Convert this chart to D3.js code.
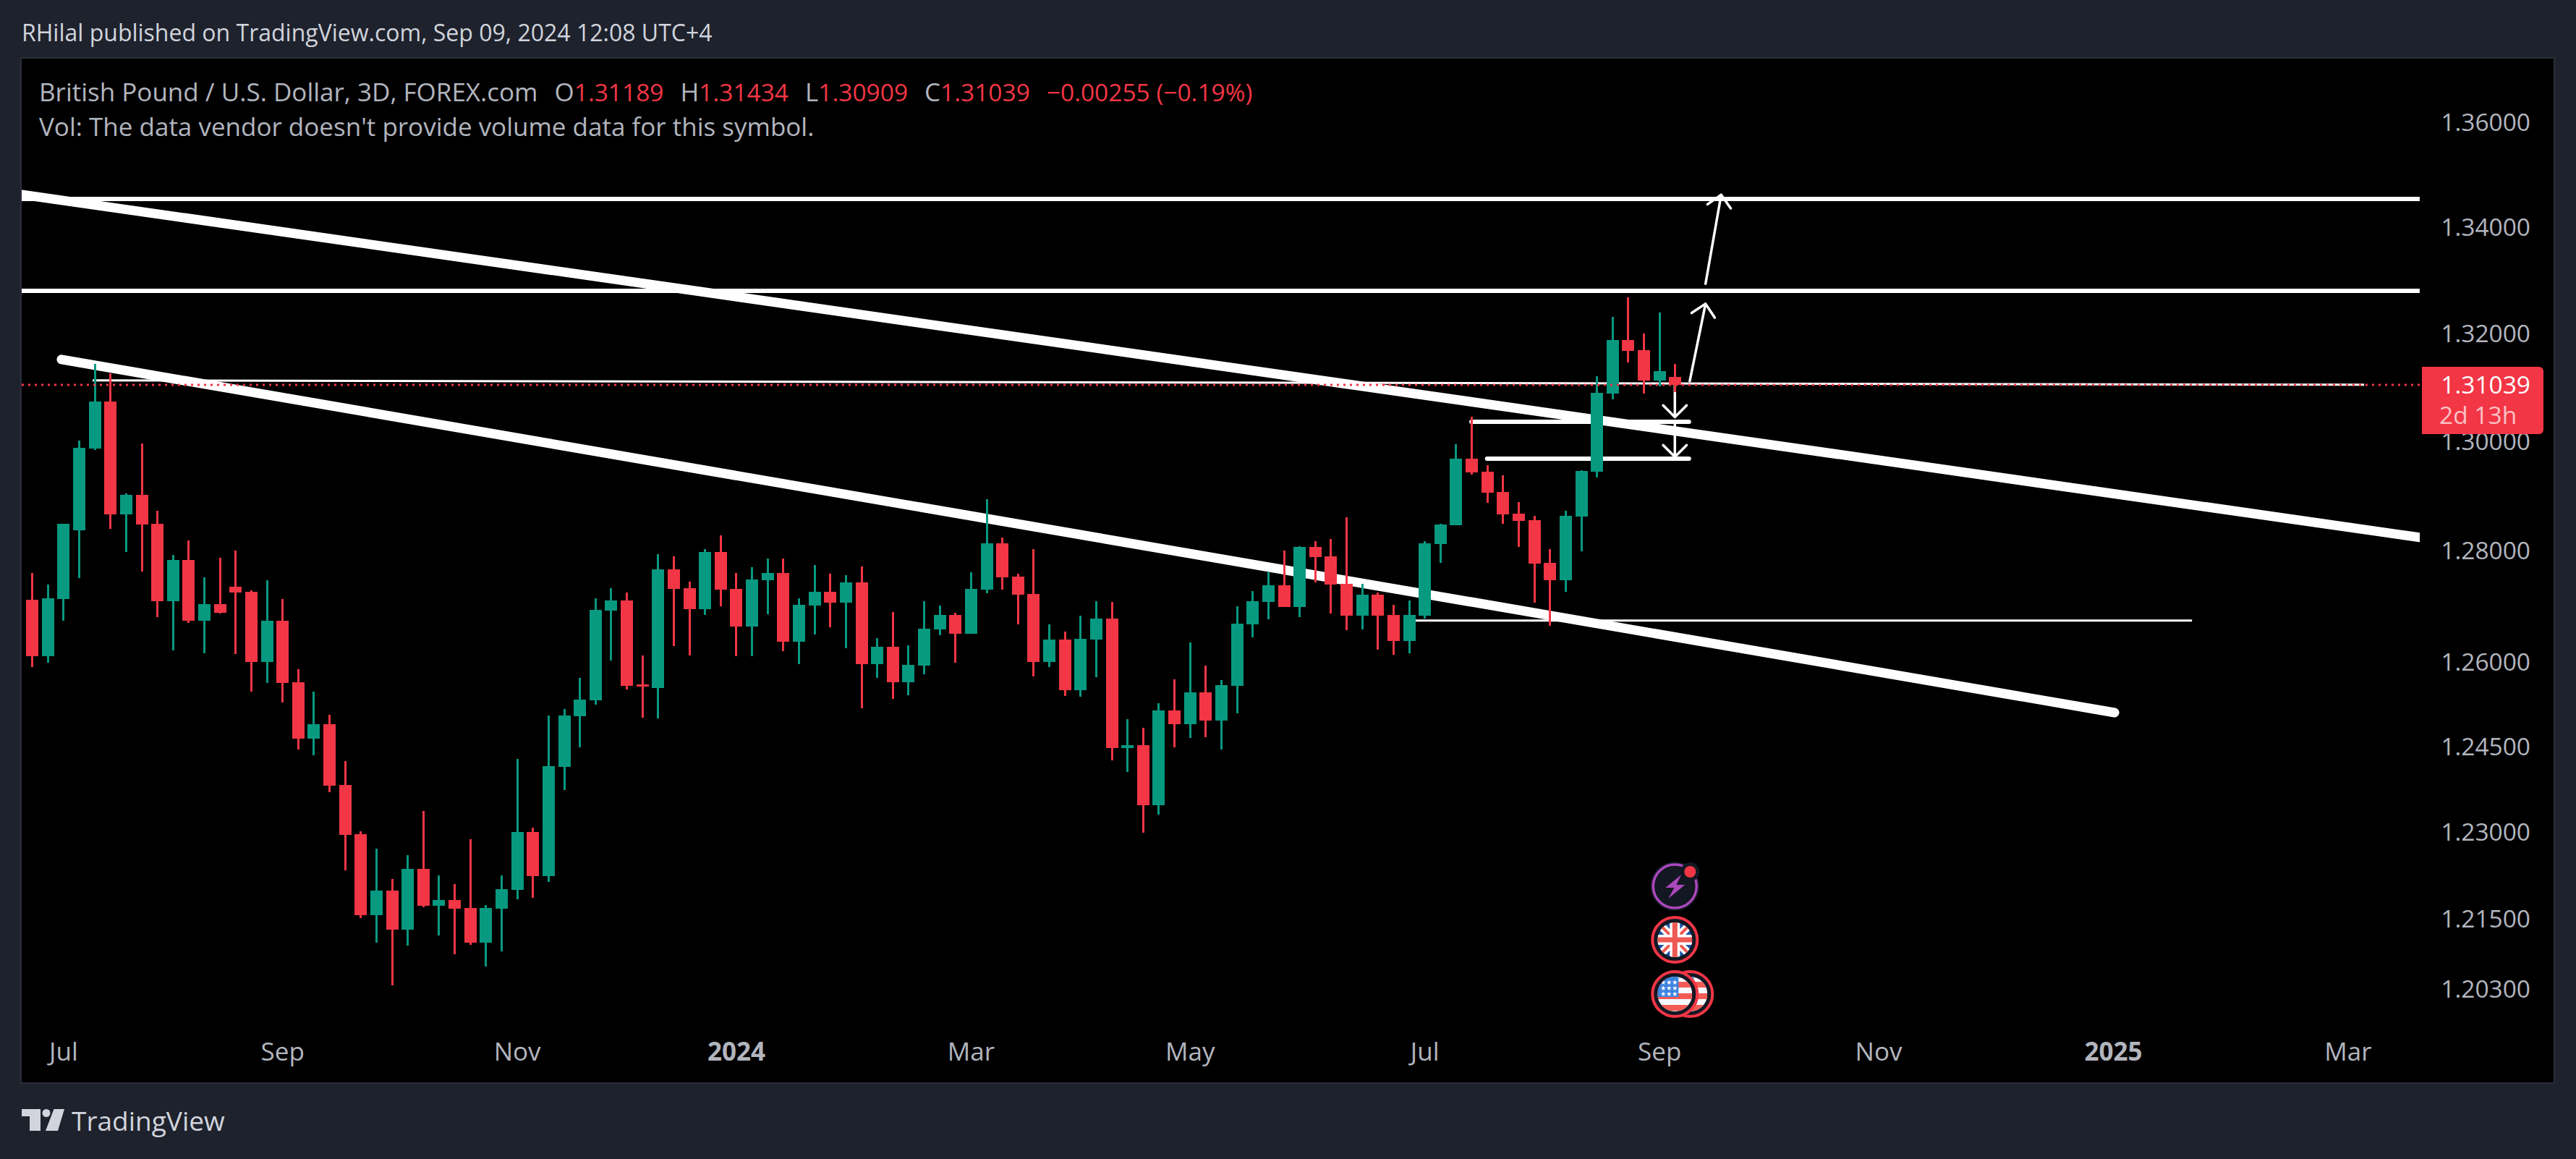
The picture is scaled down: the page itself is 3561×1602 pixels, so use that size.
<!DOCTYPE html>
<html lang="en">
<head>
  <meta charset="UTF-8">
  <title>GBP/USD 3D</title>
  <style>
    html, body { margin: 0; padding: 0; background: #1e222d; }
    svg { display: block; }
    text { font-family: "Open Sans", "Noto Sans", sans-serif; }
    .axis path, .axis line { display: none; }
    .axis text { fill: #b2b5be; font-family: "Open Sans", sans-serif; }
  </style>
</head>
<body>
  <svg width="3561" height="1602"></svg>
  <script src="https://d3js.org/d3.v7.min.js"></script>
  <script>
    const width = 3561, height = 1602;
    const red = "#f23645", green = "#089981";

    // 3D candles
    const opens = [
      1.27114,1.26102,1.27127,1.28370,1.29864,1.30732,1.28659,1.29016,1.28488,1.27088,
      1.27832,1.26738,1.27036,1.27348,1.27257,1.25999,1.26738,1.25639,1.24639,1.24893,
      1.23825,1.22966,1.21563,1.21987,1.21314,1.22362,1.21726,1.21825,1.21688,1.21090,
      1.21676,1.22000,1.23004,1.22237,1.24143,1.25034,1.25317,1.26919,1.27101,1.25600,
      1.25536,1.27662,1.27322,1.26945,1.27976,1.27309,1.26634,1.27465,1.27596,1.26361,
      1.27010,1.27257,1.27062,1.27426,1.25961,1.26270,1.25639,1.25935,1.26582,1.26841,
      1.26504,1.27296,1.28134,1.27530,1.27218,1.25999,1.26400,1.25498,1.26400,1.26777,
      1.24474,1.24524,1.23470,1.25137,1.24893,1.25459,1.24957,1.25575,1.26673,1.27075,
      1.27374,1.26984,1.28068,1.27898,1.27400,1.26829,1.27205,1.26841,1.26374,1.26829,
      1.28121,1.28462,1.29678,1.29440,1.29068,1.28672,1.28554,1.27780,1.27465,1.28619,
      1.29440,1.30879,1.31875,1.31685,1.31121,1.31189
    ];
    const highs = [
      1.27596,1.27387,1.28488,1.30010,1.31429,1.31255,1.29042,1.29957,1.28724,1.27924,
      1.28186,1.27517,1.27871,1.28003,1.27283,1.27465,1.27127,1.25870,1.25472,1.25060,
      1.24245,1.23017,1.22714,1.22187,1.22601,1.23369,1.22249,1.22100,1.22878,1.21738,
      1.22249,1.24283,1.23080,1.25047,1.25163,1.25716,1.27140,1.27322,1.27244,1.26115,
      1.27937,1.27898,1.27439,1.28029,1.28278,1.27596,1.27701,1.27858,1.27858,1.27140,
      1.27740,1.27583,1.27557,1.27714,1.26426,1.26893,1.26296,1.27088,1.27010,1.26880,
      1.27609,1.28936,1.28239,1.27583,1.28029,1.26673,1.26543,1.26829,1.27088,1.27075,
      1.24983,1.24830,1.25266,1.25690,1.26348,1.25935,1.25677,1.26997,1.27270,1.27609,
      1.28003,1.28081,1.28173,1.28213,1.28606,1.27400,1.27244,1.27023,1.27101,1.28173,
      1.28488,1.29943,1.30451,1.29559,1.29373,1.28882,1.28632,1.28029,1.28724,1.29466,
      1.31201,1.32308,1.32673,1.31997,1.32389,1.31434
    ];
    const lows = [
      1.25909,1.25986,1.26738,1.27504,1.29838,1.28396,1.27976,1.27622,1.26803,1.26205,
      1.26699,1.26153,1.26867,1.26141,1.25472,1.25626,1.25279,1.24448,1.24346,1.23698,
      1.22337,1.21514,1.21090,1.20362,1.21041,1.21701,1.21214,1.20893,1.21053,1.20683,
      1.20942,1.21838,1.21863,1.22137,1.23736,1.24486,1.25240,1.26025,1.25510,1.25009,
      1.24996,1.26283,1.26115,1.26841,1.26997,1.26102,1.26102,1.26854,1.26192,1.25961,
      1.26491,1.26621,1.26244,1.25176,1.25716,1.25343,1.25408,1.25780,1.26478,1.25986,
      1.26504,1.27231,1.27296,1.26673,1.25742,1.25909,1.25395,1.25382,1.25729,1.24257,
      1.24054,1.22991,1.23306,1.24486,1.24652,1.24664,1.24448,1.25086,1.26439,1.26764,
      1.26984,1.26803,1.27426,1.26867,1.26569,1.26582,1.26218,1.26128,1.26153,1.26777,
      1.27780,1.28462,1.29386,1.28869,1.28488,1.28068,1.27062,1.26647,1.27257,1.27990,
      1.29333,1.30772,1.31456,1.30879,1.31013,1.30909
    ];
    const closes = [
      1.26102,1.27140,1.28488,1.29877,1.30732,1.28659,1.29016,1.28475,1.27088,1.27832,
      1.26738,1.27036,1.26880,1.27244,1.25999,1.26738,1.25626,1.24639,1.24893,1.23812,
      1.22954,1.21563,1.21987,1.21314,1.22362,1.21726,1.21825,1.21676,1.21090,1.21688,
      1.22012,1.23004,1.22237,1.24156,1.25047,1.25330,1.26932,1.27101,1.25575,1.25562,
      1.27662,1.27309,1.26945,1.27976,1.27296,1.26634,1.27478,1.27596,1.26361,1.27023,
      1.27257,1.27062,1.27426,1.25961,1.26270,1.25639,1.25948,1.26595,1.26841,1.26504,
      1.27309,1.28134,1.27517,1.27205,1.25999,1.26400,1.25498,1.26413,1.26777,1.24474,
      1.24524,1.23470,1.25137,1.24893,1.25459,1.24957,1.25587,1.26686,1.27088,1.27374,
      1.26984,1.28068,1.27885,1.27387,1.26829,1.27205,1.26829,1.26374,1.26841,1.28134,
      1.28475,1.29678,1.29426,1.29055,1.28659,1.28541,1.27767,1.27465,1.28632,1.29453,
      1.30893,1.31875,1.31672,1.31121,1.31295,1.31039
    ];

    const priceTicks = [1.36, 1.34, 1.32, 1.30, 1.28, 1.26, 1.245, 1.23, 1.215, 1.203];
    const timeTicks = [2, 16, 31, 45, 60, 74, 89, 104, 118, 133, 148];
    const timeLabels = ["Jul", "Sep", "Nov", "2024", "Mar", "May", "Jul", "Sep", "Nov", "2025", "Mar"];
    const lastPrice = 1.31039;

    // drawings as [bar index, price] pairs
    const trendLines = [
      [[-0.652, 1.34616], [152.6, 1.28239]],
      [[1.89, 1.31510], [133.1, 1.25099]]
    ];
    const levelLines = [
      [[-0.652, 1.34533], [152.6, 1.34533]],
      [[-0.652, 1.32795], [152.6, 1.32795]]
    ];
    const shortLevels = [
      [[92, 1.30357], [105.9, 1.30357]],
      [[93, 1.29678], [105.9, 1.29678]]
    ];
    const thinLines = [
      [[3.88, 1.31121], [149.05, 1.31040]],
      [[88.4, 1.26738], [138.05, 1.26738]]
    ];
    const arrows = [
      [[105.95, 1.31107], [106.96, 1.32551]],
      [[106.96, 1.32927], [107.96, 1.34612]],
      [[105, 1.31067], [105, 1.30441]],
      [[105, 1.30330], [105, 1.29709]]
    ];

    const legendParts = [
      ["British Pound / U.S. Dollar, 3D, FOREX.com", "#b2b5be", 0],
      ["O", "#b2b5be", 23], ["1.31189", red, 0],
      ["H", "#b2b5be", 23], ["1.31434", red, 0],
      ["L", "#b2b5be", 23], ["1.30909", red, 0],
      ["C", "#b2b5be", 23], ["1.31039", red, 0],
      ["−0.00255 (−0.19%)", red, 23]
    ];

    const paneRight = 3345, plotLeft = 30, plotRight = 3530, plotTop = 81, plotBottom = 1496;

    const x = d3.scaleLinear().domain([0, 105]).range([44.1, 2315.3]);
    const y = d3.scaleLog().domain([1.36, 1.203]).range([169, 1367]);
    const px = p => [x(p[0]), y(p[1])];

    const svg = d3.select("svg");

    svg.append("rect").attr("width", width).attr("height", height).attr("fill", "#1e222d");
    svg.append("rect")
      .attr("x", plotLeft - 1).attr("y", plotTop - 1)
      .attr("width", plotRight - plotLeft + 2).attr("height", plotBottom - plotTop + 2)
      .attr("fill", "#000").attr("stroke", "#2a2e39").attr("stroke-width", 2);

    svg.append("text").attr("x", 30).attr("y", 57)
      .attr("font-size", 32).attr("fill", "#d1d4dc")
      .text("RHilal published on TradingView.com, Sep 09, 2024 12:08 UTC+4");

    svg.append("clipPath").attr("id", "pane").append("rect")
      .attr("x", plotLeft).attr("y", plotTop)
      .attr("width", paneRight - plotLeft).attr("height", plotBottom - plotTop);

    const pane = svg.append("g").attr("clip-path", "url(#pane)");
    const line = d3.line();

    function drawLines(list, w, cap) {
      pane.append("g").selectAll("path").data(list).join("path")
        .attr("d", d => line(d.map(px)))
        .attr("fill", "none").attr("stroke", "#fff")
        .attr("stroke-width", w).attr("stroke-linecap", cap);
    }
    drawLines(levelLines, 6, "butt");
    drawLines(trendLines, 13, "round");
    drawLines(shortLevels, 6, "round");
    drawLines(thinLines, 3, "butt");

    // arrow shaft plus a 45 degree head at the tip
    const headLen = 23;
    function arrowPath(a) {
      const s = px(a[0]), t = px(a[1]);
      const ang = Math.atan2(s[1] - t[1], s[0] - t[0]);
      const w1 = [t[0] + headLen * Math.cos(ang + Math.PI / 4), t[1] + headLen * Math.sin(ang + Math.PI / 4)];
      const w2 = [t[0] + headLen * Math.cos(ang - Math.PI / 4), t[1] + headLen * Math.sin(ang - Math.PI / 4)];
      return line([s, t]) + line([w1, t, w2]);
    }
    pane.append("g").selectAll("path").data(arrows).join("path")
      .attr("d", arrowPath)
      .attr("fill", "none").attr("stroke", "#fff").attr("stroke-width", 3.5)
      .attr("stroke-linecap", "round").attr("stroke-linejoin", "round");

    // candles
    const idx = d3.range(opens.length);
    const colorOf = i => closes[i] < opens[i] ? red : green;
    const candles = pane.append("g").attr("shape-rendering", "crispEdges");
    candles.selectAll("rect.wick").data(idx).join("rect")
      .attr("class", "wick")
      .attr("x", i => Math.round(x(i)) - 1).attr("width", 3)
      .attr("y", i => y(highs[i]))
      .attr("height", i => y(lows[i]) - y(highs[i]))
      .attr("fill", colorOf);
    candles.selectAll("rect.body").data(idx).join("rect")
      .attr("class", "body")
      .attr("x", i => Math.round(x(i)) - 8).attr("width", 17)
      .attr("y", i => y(Math.max(opens[i], closes[i])))
      .attr("height", i => Math.max(1, Math.abs(y(opens[i]) - y(closes[i]))))
      .attr("fill", colorOf);

    // last price line
    svg.append("line")
      .attr("x1", plotLeft).attr("x2", paneRight)
      .attr("y1", y(lastPrice)).attr("y2", y(lastPrice))
      .attr("stroke", red).attr("stroke-width", 3).attr("stroke-dasharray", "3 6");

    // axes
    svg.append("g").attr("class", "axis")
      .attr("transform", "translate(3498,1)")
      .call(d3.axisLeft(y).tickValues(priceTicks).tickFormat(d3.format(".5f")).tickSize(0).tickPadding(0))
      .call(g => g.selectAll("text").attr("font-size", 33.5));

    svg.append("g").attr("class", "axis")
      .attr("transform", "translate(0,1441)")
      .call(d3.axisBottom(x).tickValues(timeTicks).tickFormat((d, i) => timeLabels[i]).tickSize(0).tickPadding(0))
      .call(g => g.selectAll("text")
        .attr("font-size", 35)
        .attr("font-weight", (d, i) => /^\d/.test(timeLabels[i]) ? 700 : 400));

    // price label
    const ly = y(lastPrice);
    svg.append("path")
      .attr("d", `M3348,${ly - 25}H3510a6,6 0 0 1 6,6V${ly + 62}a6,6 0 0 1 -6,6H3348Z`)
      .attr("fill", red);
    svg.append("text").attr("x", 3498).attr("y", ly + 12)
      .attr("text-anchor", "end").attr("font-size", 33.5).attr("fill", "#fff")
      .text(d3.format(".5f")(lastPrice));
    svg.append("text").attr("x", 3372).attr("y", ly + 54)
      .attr("font-size", 33.5).attr("fill", "#fff").attr("fill-opacity", 0.7)
      .text("2d 13h");

    // legend, the numbers run a bit narrower than the name
    const legend = svg.append("text").attr("x", 54).attr("y", 140).attr("font-size", 35);
    legend.selectAll("tspan").data(legendParts).join("tspan")
      .attr("dx", d => d[2]).attr("fill", d => d[1])
      .attr("font-size", d => /^[\d−]/.test(d[0]) ? 33.5 : 35)
      .text(d => d[0]);
    svg.append("text").attr("x", 54).attr("y", 188).attr("font-size", 35).attr("fill", "#b2b5be")
      .text("Vol: The data vendor doesn't provide volume data for this symbol.");

    // event markers under the last bar
    const ex = x(105);
    const events = svg.append("g");
    const ev1 = events.append("g").attr("transform", `translate(${ex},1225)`);
    ev1.append("circle").attr("r", 34).attr("fill", "#131722");
    ev1.append("circle").attr("r", 30).attr("fill", "none").attr("stroke", "#ab47bc").attr("stroke-width", 3.5);
    ev1.append("path").attr("d", "M9,-16 L-13,2 L-1,2 L-9,17 L14,-2 L2,-2 Z").attr("fill", "#ab47bc");
    ev1.append("circle").attr("cx", 21).attr("cy", -20).attr("r", 13).attr("fill", "#131722");
    ev1.append("circle").attr("cx", 21).attr("cy", -20).attr("r", 8).attr("fill", red);

    function badge(cx, cy, clipId) {
      const g = events.append("g").attr("transform", `translate(${cx},${cy})`);
      g.append("circle").attr("r", 31).attr("fill", "#131722").attr("stroke", red).attr("stroke-width", 4);
      g.append("clipPath").attr("id", clipId).append("circle").attr("r", 24);
      return g.append("g").attr("clip-path", `url(#${clipId})`);
    }

    function usFlag(g) {
      g.append("rect").attr("x", -24).attr("y", -24).attr("width", 48).attr("height", 48).attr("fill", "#f7f9fe");
      [-17, -1, 15].forEach(sy => {
        g.append("rect").attr("x", -24).attr("y", sy).attr("width", 48).attr("height", 8).attr("fill", "#f25c54");
      });
      g.append("rect").attr("x", -24).attr("y", -24).attr("width", 29).attr("height", 28).attr("fill", "#3b82e0");
      const star = d3.symbol().type(d3.symbolStar).size(16);
      [-16, -8, 0].forEach(sx => [-16, -8, 0].forEach(sy => {
        g.append("path").attr("d", star()).attr("transform", `translate(${sx},${sy})`).attr("fill", "#fff");
      }));
    }

    const uk = badge(ex, 1299, "ukClip");
    uk.append("circle").attr("r", 24).attr("fill", "#1a56a8");
    uk.append("path").attr("d", "M-24,-24L24,24M24,-24L-24,24").attr("stroke", "#fff").attr("stroke-width", 11);
    uk.append("path").attr("d", "M-24,-24L24,24M24,-24L-24,24").attr("stroke", "#ee5a52").attr("stroke-width", 4);
    uk.append("path").attr("d", "M0,-24V24M-24,0H24").attr("stroke", "#fff").attr("stroke-width", 14);
    uk.append("path").attr("d", "M0,-24V24M-24,0H24").attr("stroke", "#ee5a52").attr("stroke-width", 7);

    usFlag(badge(ex + 21, 1374, "usClipBack"));
    usFlag(badge(ex, 1374, "usClipFront"));

    // footer logo
    const logo = svg.append("g").attr("fill", "#d1d4dc");
    logo.append("path").attr("d", "M30,1533H56V1563H41V1543H30Z");
    logo.append("circle").attr("cx", 64).attr("cy", 1538.5).attr("r", 5.5);
    logo.append("path").attr("d", "M74.5,1533H89L80,1563H63Z");
    svg.append("text").attr("x", 99).attr("y", 1563)
      .attr("font-size", 37).attr("font-weight", 500).attr("fill", "#d1d4dc")
      .text("TradingView");
  </script>
</body>
</html>
